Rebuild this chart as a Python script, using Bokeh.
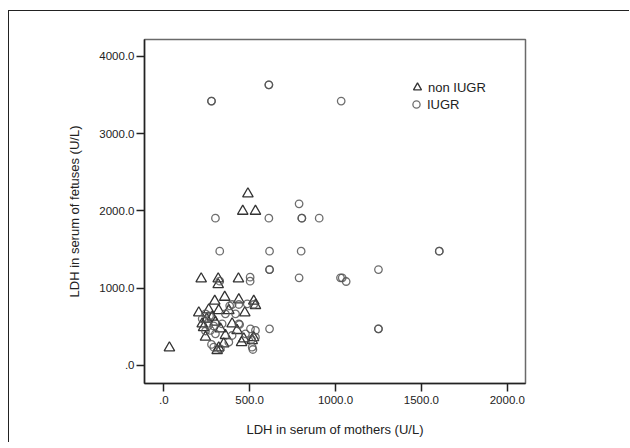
from bokeh.plotting import figure
from bokeh.models import Range1d, FixedTicker, Legend, LegendItem
from bokeh.embed import file_html
from bokeh.resources import INLINE

# ---- data ----
non_iugr_x = [33, 218, 317, 435, 317, 460, 534, 490,
              297, 355, 437, 524, 534, 204, 320, 379, 472, 224, 301, 398,
              243, 359, 427, 466, 515, 311, 349, 282, 330, 232, 453, 523,
              320, 262, 250]
non_iugr_y = [229, 1121, 1121, 1121, 1047, 1995, 1995, 2220,
              832, 883, 850, 832, 776, 681, 711, 711, 681, 539, 560, 539,
              366, 388, 453, 345, 323, 194, 280, 625, 474, 491, 297, 362,
              229, 720, 600]

iugr_x = [278, 278, 612, 612, 1033, 301, 612, 788, 804, 804, 905,
          326, 616, 800, 1604, 1604, 616, 616, 1250, 788, 1029, 1039,
          1062, 326, 503, 503, 616, 1250, 1250,
          398, 437, 524, 486, 243, 359, 418, 262, 340, 437, 505, 534,
          301, 398, 534, 291, 330, 515, 272, 379, 476, 224, 267, 243,
          290, 278, 512, 519, 442, 384]
iugr_y = [3420, 3420, 3630, 3630, 3420, 1905, 1905, 2091, 1905, 1905, 1905,
          1478, 1478, 1478, 1478, 1478, 1241, 1241, 1241, 1134, 1134, 1134,
          1086, 1090, 1142, 1090, 474, 474, 474,
          789, 789, 789, 798, 668, 668, 668, 517, 539, 539, 474, 453,
          410, 388, 366, 237, 216, 237, 453, 302, 410, 604, 641, 446,
          511, 272, 336, 207, 530, 771]

x_ticks = [0, 500, 1000, 1500, 2000]
x_tick_labels = [".0", "500.0", "1000.0", "1500.0", "2000.0"]
y_ticks = [0, 1000, 2000, 3000, 4000]
y_tick_labels = [".0", "1000.0", "2000.0", "3000.0", "4000.0"]

series_names = ["non IUGR", "IUGR"]
x_title = "LDH in serum of mothers (U/L)"
y_title = "LDH in serum of fetuses (U/L)"

FONT = "Liberation Sans"

# canvas starts at (9, 11) on the page: 8/10 px margin + 1 px outer frame line
p = figure(width=621, height=432,
           x_range=Range1d(-112, 2106), y_range=Range1d(-233, 4216),
           output_backend="svg", toolbar_location=None,
           min_border_left=135, min_border_right=105,
           min_border_top=28, min_border_bottom=60,
           styles={"border-left": "1px solid #222",
                   "border-top": "1px solid #222",
                   "margin-left": "8px",
                   "margin-top": "10px"})

p.background_fill_color = "white"
p.border_fill_color = "white"
p.grid.visible = False
p.outline_line_color = "#6a6a6a"
p.outline_line_width = 1.5

tri = p.scatter(non_iugr_x, non_iugr_y, marker="triangle", size=10.5,
                fill_color=None, line_color="#333333", line_width=1.3)
cir = p.scatter(iugr_x, iugr_y, marker="circle", size=7.5,
                fill_color=None, line_color="#555555", line_width=1.3,
                line_alpha=0.85)

for ax, ticks, labels in ((p.xaxis[0], x_ticks, x_tick_labels),
                          (p.yaxis[0], y_ticks, y_tick_labels)):
    ax.ticker = FixedTicker(ticks=ticks)
    ax.major_label_overrides = {t: l for t, l in zip(ticks, labels)}
    ax.minor_tick_line_color = None
    ax.major_tick_in = 0
    ax.major_tick_out = 8
    ax.major_tick_line_color = "#222222"
    ax.major_tick_line_width = 1.5
    ax.axis_line_color = "#222222"
    ax.axis_line_width = 1.5
    ax.major_label_text_font = FONT
    ax.major_label_text_font_size = "11.5px"
    ax.major_label_text_color = "#222222"
    ax.axis_label_text_font = FONT
    ax.axis_label_text_font_size = "13px"
    ax.axis_label_text_font_style = "normal"
    ax.axis_label_text_color = "#222222"

p.xaxis.axis_label = x_title
p.yaxis.axis_label = y_title
p.xaxis.major_label_standoff = 4
p.yaxis.major_label_standoff = 2
p.xaxis.axis_label_standoff = 15
p.yaxis.axis_label_standoff = 14


def make_legend(name, renderer, glyph, loc, standoff):
    lg = Legend(items=[LegendItem(label=name, renderers=[renderer])],
                location=loc)
    lg.border_line_color = None
    lg.background_fill_alpha = 0
    lg.padding = 0
    lg.margin = 0
    lg.spacing = 0
    lg.glyph_width = glyph
    lg.glyph_height = glyph
    lg.label_standoff = standoff
    lg.label_text_font = FONT
    lg.label_text_font_size = "13px"
    lg.label_text_color = "#222222"
    lg.label_height = glyph
    return lg


p.add_layout(make_legend(series_names[0], tri, 20, (263, 286), 1))
p.add_layout(make_legend(series_names[1], cir, 18, (263, 270), 2))

open("out.html", "w").write(file_html(p, INLINE))
